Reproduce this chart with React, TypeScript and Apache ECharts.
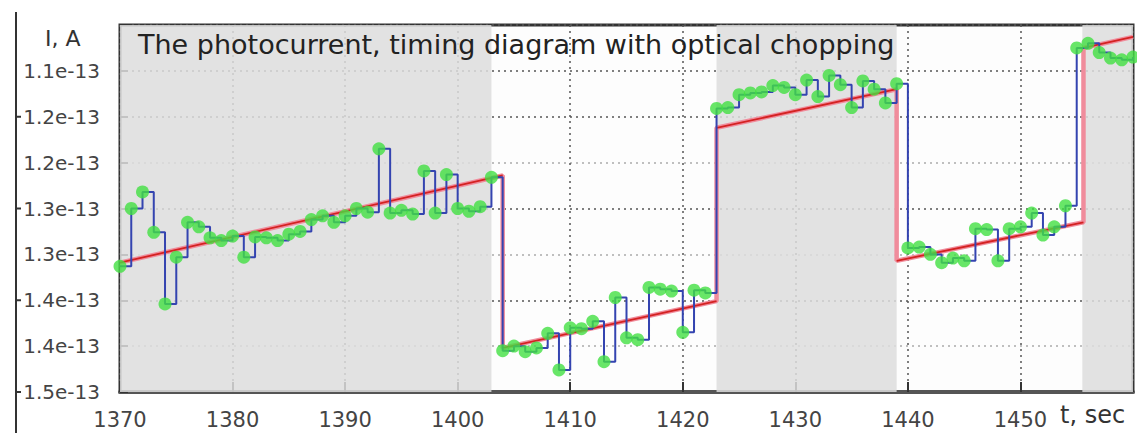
import React, { useEffect, useRef } from "react";
import * as echarts from "echarts";

// time axis start (s), one sample per second
const T0 = 1370;
// measured photocurrent, units of 1e-15 A (axis drawn inverted)
const current = [
  136.3, 130.0, 128.2, 132.6, 140.4, 135.3, 131.5, 132.0, 133.2, 133.5,
  133.0, 135.3, 133.1, 133.2, 133.5, 132.8, 132.5, 131.2, 130.8, 131.5,
  130.8, 130.0, 130.4, 123.5, 130.5, 130.2, 130.6, 125.9, 130.5, 126.3,
  130.0, 130.3, 129.8, 126.6, 145.5, 145.0, 145.6, 145.2, 143.6, 147.6,
  143.0, 143.1, 142.3, 146.7, 139.7, 144.1, 144.3, 138.6, 138.8, 139.0,
  143.5, 138.9, 139.2, 119.1, 119.0, 117.6, 117.4, 117.3, 116.6, 116.8,
  117.6, 116.0, 117.8, 115.5, 116.5, 119.0, 116.1, 117.0, 118.5, 116.4,
  134.3, 134.2, 135.0, 135.9, 135.4, 135.7, 132.2, 132.3, 135.7, 132.2,
  132.0, 130.5, 132.9, 132.0, 129.7, 112.5, 112.0, 113.0, 113.6, 113.8,
  113.5,
];

// fitted piecewise-linear model
const fitStartT = [1370, 1404, 1423, 1439, 1455.6];
const fitEndT = [1404, 1423, 1439, 1455.6, 1460];
const fitStartV = [135.9, 145.2, 121.2, 135.7, 112.5];
const fitEndV = [126.4, 140.1, 117.0, 131.5, 111.3];

// chopper "open" (shaded) intervals
const shadeStart = [1370, 1423, 1455.5];
const shadeEnd = [1403, 1439, 1460];

const yTickValues = [115, 120, 125, 130, 135, 140, 145, 150];
const yTickLabels = ["1.1e-13", "1.2e-13", "1.2e-13", "1.3e-13", "1.3e-13", "1.4e-13", "1.4e-13", "1.5e-13"];
const xTickLabels = ["1370", "1380", "1390", "1400", "1410", "1420", "1430", "1440", "1450"];

const TITLE = "The photocurrent, timing diagram with optical chopping";

export default function App() {
  const ref = useRef<HTMLDivElement>(null);
  useEffect(() => {
    if (!ref.current) return;
    const chart = echarts.init(ref.current, undefined, { renderer: "svg" });
    const measured = current.map((v, i) => [T0 + i, v]);
    const fitStep: any[] = [];
    const fitRed: any[] = [];
    fitStartT.forEach((t, i) => {
      fitStep.push([t, fitStartV[i]], [fitEndT[i], fitEndV[i]]);
      if (i > 0) fitRed.push([t, "-"]);
      fitRed.push([t, fitStartV[i]], [fitEndT[i], fitEndV[i]]);
    });
    const shades = shadeStart.map((s, i) => [s, shadeEnd[i]]);
    const font = "DejaVu Sans, sans-serif";
    chart.setOption({
      animation: false,
      grid: {
        left: 120, right: 4, top: 25, bottom: 41,
        show: true, borderColor: "#333", borderWidth: 3, backgroundColor: "#fdfdfd",
      },
      xAxis: {
        type: "value", min: 1370, max: 1460, interval: 10,
        axisLine: { show: true, lineStyle: { color: "#555", width: 4 } },
        axisTick: { show: true, inside: true, length: 10, lineStyle: { color: "#333", width: 2 } },
        axisLabel: {
          margin: 17, color: "#444", fontSize: 21, fontFamily: font,
          formatter: (v: number) => {
            const k = xTickLabels.indexOf(String(Math.round(v)));
            return k >= 0 ? xTickLabels[k] : "";
          },
        },
        splitLine: { show: true, lineStyle: { color: "#555", type: [2, 4], width: 1.5 } },
      },
      yAxis: {
        type: "value", min: 110, max: 150, interval: 5, inverse: true,
        axisLine: { show: false },
        axisTick: { show: true, inside: true, length: 8, lineStyle: { color: "#333", width: 2 } },
        axisLabel: {
          margin: 20, color: "#444", fontSize: 20, fontFamily: font,
          formatter: (v: number) => {
            const k = yTickValues.indexOf(Math.round(v));
            return k >= 0 ? yTickLabels[k] : "";
          },
        },
        splitLine: {
          show: true,
          lineStyle: {
            color: ["#555", "#555", "#555", "#aaa", "#555", "#aaa", "#555", "#aaa", "#555"],
            type: [2, 4], width: 1.5,
          },
        },
      },
      series: [
        {
          type: "custom", z: 1, silent: true, clip: true,
          data: shades,
          renderItem: (params: any, api: any) => {
            const a = api.coord([api.value(0), 110]);
            const b = api.coord([api.value(1), 150]);
            return {
              type: "rect",
              shape: { x: a[0], y: Math.min(a[1], b[1]), width: b[0] - a[0], height: Math.abs(b[1] - a[1]) },
              style: { fill: "#dddddd", opacity: 0.85 },
            };
          },
        },
        {
          type: "line", z: 3, data: fitStep, symbol: "none",
          lineStyle: { color: "#f08c9c", width: 4.5 },
        },
        {
          type: "line", z: 4, data: fitRed, symbol: "none", connectNulls: false,
          lineStyle: { color: "#d42222", width: 1.8 },
        },
        {
          type: "line", z: 5, data: measured, step: "end", symbol: "none",
          lineStyle: { color: "#3444b0", width: 2 },
        },
        {
          type: "scatter", z: 6, data: measured, symbolSize: 13,
          itemStyle: { color: "#42e042" },
        },
      ],
    });
    const tickMarks = [120, 130, 140, 150].map((v) => {
      const y = chart.convertToPixel({ yAxisIndex: 0 }, v) as number;
      return { type: "line", shape: { x1: 16, y1: y, x2: 21, y2: y }, style: { stroke: "#333", lineWidth: 2 } };
    });
    chart.setOption({
      graphic: [
        { type: "line", shape: { x1: 16, y1: 12, x2: 16, y2: 433 }, style: { stroke: "#333", lineWidth: 2 } },
        ...tickMarks,
        { type: "text", left: 45, top: 27, style: { text: "I, A", fontSize: 22, fontFamily: font, fill: "#333" } },
        { type: "text", left: 138, top: 31, z: 10, style: { text: TITLE, fontSize: 27, fontFamily: font, fill: "#222" } },
        { type: "text", left: 1060, top: 403, style: { text: "t, sec", fontSize: 24, fontFamily: font, fill: "#333" } },
      ],
    });
    return () => chart.dispose();
  }, []);
  return <div ref={ref} style={{ position: "absolute", left: 0, top: 0, width: 1137, height: 433 }} />;
}
